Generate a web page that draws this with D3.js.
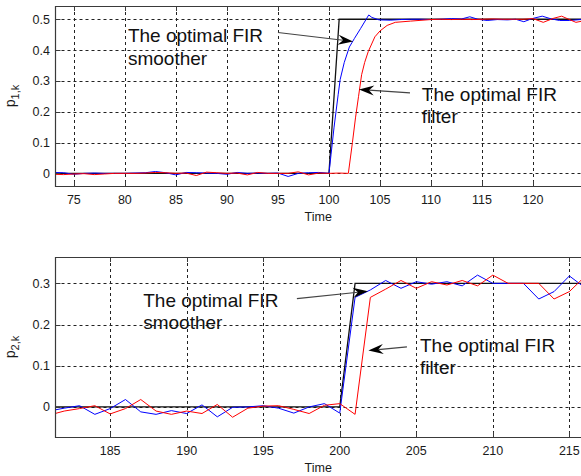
<!DOCTYPE html>
<html>
<head>
<meta charset="utf-8">
<script src="https://cdn.jsdelivr.net/npm/d3@7"></script>
<style>
  body { margin: 0; background: #fff; }
  svg text { font-family: Arial, "Liberation Sans", sans-serif; fill: #1a1a1a; }
</style>
</head>
<body>
<div id="chart"></div>
<script>
// ---- top panel data (p_{1,k}) ----
var trueTime1 = [73, 100, 101, 125];
var trueVal1 = [0, 0, 0.5, 0.5];

var smoothTime1 = [73, 74, 75, 76, 77, 78, 79, 80, 81, 82, 83, 84, 85, 86, 87, 88, 89, 90, 91, 92, 93, 94, 95, 96, 97, 98, 99, 100,
  100.2, 100.5, 100.9, 101.1, 101.5, 102, 102.5, 103.1, 103.9, 104.2, 104.9,
  106, 107, 108, 109, 110, 111, 112, 113, 113.8, 114.6, 115.5, 116.5, 117.5, 118.3, 119.1, 119.9, 120.9, 121.8, 122.6, 123.6, 125];
var smoothVal1 = [0.003, 0.002, -0.003, 0.0, 0.001, 0.0, 0.0, 0.0, 0.001, 0.002, 0.006, 0.002, -0.005, 0.003, 0.002, 0.001, 0.0, -0.003, 0.003, 0.0, 0.001, 0.0, 0.001, -0.01, 0.0, 0.002, 0.003, 0.0,
  0.06, 0.15, 0.255, 0.305, 0.36, 0.41, 0.438, 0.47, 0.514, 0.506, 0.498,
  0.497, 0.499, 0.5, 0.5, 0.499, 0.5, 0.502, 0.501, 0.508, 0.5, 0.496, 0.499, 0.498, 0.5, 0.492, 0.502, 0.51, 0.501, 0.496, 0.496, 0.5];

var filterTime1 = [73, 74, 75, 76, 77, 78, 79, 80, 81, 82, 83, 84, 85, 86, 87, 88, 89, 90, 91, 92, 93, 94, 95, 96, 97, 98, 99, 100, 101, 101.9,
  102.3, 102.6, 102.9, 103.2, 103.5, 103.85, 104.5, 105, 105.7, 106.5, 108, 110,
  111, 112, 113, 114, 115, 116, 117, 118, 119, 120, 121, 122, 122.8, 123.5, 124.2, 125];
var filterVal1 = [-0.003, -0.004, -0.002, -0.001, -0.004, -0.002, 0.0, 0.0, 0.0, 0.001, 0.003, 0.002, 0.0, 0.001, -0.007, 0.004, 0.002, 0.0, 0.001, -0.005, 0.003, 0.0, 0.0, 0.0, 0.005, -0.005, 0.001, 0.0, 0.001, 0.0,
  0.1, 0.18, 0.25, 0.32, 0.36, 0.395, 0.443, 0.462, 0.48, 0.49, 0.494, 0.499,
  0.5, 0.499, 0.5, 0.499, 0.5, 0.501, 0.5, 0.5, 0.5, 0.502, 0.49, 0.503, 0.51, 0.5, 0.49, 0.495];

// ---- bottom panel data (p_{2,k}) ----
var trueTime2 = [181, 200, 201, 216];
var trueVal2 = [0, 0, 0.3, 0.3];

var time2 = [181, 182, 183, 184, 185, 186, 187, 188, 189, 190, 191, 192, 193, 194, 195, 196, 197, 198,
  199, 200, 201, 202, 203, 204, 205, 206, 207, 208, 209, 210, 211, 212, 213, 214, 215, 216];
var smoothVal2 = [-0.01, -0.003, 0.003, -0.018, -0.004, 0.018, -0.012, -0.018, -0.009, -0.016, 0.005, -0.024, -0.001, 0.0, 0.003, -0.003, -0.015, 0.0,
  0.008, -0.015, 0.266, 0.284, 0.307, 0.288, 0.304, 0.298, 0.304, 0.294, 0.32, 0.3, 0.3, 0.3, 0.262, 0.28, 0.318, 0.29];
var filterVal2 = [-0.02, -0.01, -0.004, 0.003, -0.017, -0.004, 0.018, -0.01, -0.018, -0.01, -0.016, 0.006, -0.025, -0.003, 0.002, 0.003, -0.006, -0.016,
  0.004, 0.008, -0.018, 0.266, 0.286, 0.307, 0.288, 0.304, 0.296, 0.307, 0.294, 0.32, 0.3, 0.3, 0.3, 0.262, 0.28, 0.316];

// ticks
var xTicks1 = [75, 80, 85, 90, 95, 100, 105, 110, 115, 120];
var yTicks1 = [0, 0.1, 0.2, 0.3, 0.4, 0.5];
var xTicks2 = [185, 190, 195, 200, 205, 210, 215];
var yTicks2 = [0, 0.1, 0.2, 0.3];

// annotations (data coords): text anchor, arrow start, arrow tip
var notes1 = [
  {lines: ["The optimal FIR", "smoother"], tx: 80.3, ty: 0.426, from: [95.0, 0.457], to: [102.36, 0.428]},
  {lines: ["The optimal FIR", "filter"], tx: 109.1, ty: 0.236, from: [107.94, 0.261], to: [102.95, 0.272]}
];
var notes2 = [
  {lines: ["The optimal FIR", "smoother"], tx: 187.16, ty: 0.243, from: [197.2, 0.263], to: [201.84, 0.281]},
  {lines: ["The optimal FIR", "filter"], tx: 205.24, ty: 0.134, from: [204.39, 0.146], to: [201.87, 0.137]}
];

var W = 581, H = 476;
var svg = d3.select("#chart").append("svg")
  .attr("width", W)
  .attr("height", H);

function zip(ts, vs) {
  return ts.map(function(t, i) { return {t: t, v: vs[i]}; });
}

function drawPanel(cfg) {
  var left = 55.5, right = 581;
  var x = d3.scaleLinear().domain(cfg.xDomain).range([left, right]);
  var y = d3.scaleLinear().domain(cfg.yDomain).range([cfg.bottom, cfg.top]);

  var g = svg.append("g");

  // clip to plot area
  var clipId = "clip-" + cfg.id;
  g.append("clipPath").attr("id", clipId)
    .append("rect")
      .attr("x", left).attr("y", cfg.top)
      .attr("width", right - left + 2).attr("height", cfg.bottom - cfg.top);

  // grid
  g.selectAll(".vgrid").data(cfg.xTicks).enter()
    .append("line")
      .attr("x1", function(d) { return Math.round(x(d)) + 0.5; })
      .attr("x2", function(d) { return Math.round(x(d)) + 0.5; })
      .attr("y1", cfg.top).attr("y2", cfg.bottom)
      .style("stroke", "#222")
      .style("stroke-dasharray", "3,3");
  g.selectAll(".hgrid").data(cfg.yTicks).enter()
    .append("line")
      .attr("x1", left).attr("x2", right)
      .attr("y1", function(d) { return Math.round(y(d)) + 0.5; })
      .attr("y2", function(d) { return Math.round(y(d)) + 0.5; })
      .style("stroke", "#222")
      .style("stroke-dasharray", "3,3");

  // series
  var line = d3.line()
    .x(function(d) { return x(d.t); })
    .y(function(d) { return y(d.v); });
  var plot = g.append("g").attr("clip-path", "url(#" + clipId + ")");
  plot.append("path").datum(zip(cfg.trueT, cfg.trueV))
    .attr("d", line)
    .style("fill", "none").style("stroke", "#111").style("stroke-width", 1.3);
  plot.append("path").datum(zip(cfg.smoothT, cfg.smoothV))
    .attr("d", line)
    .style("fill", "none").style("stroke", "#0000ff").style("stroke-width", 1);
  plot.append("path").datum(zip(cfg.filterT, cfg.filterV))
    .attr("d", line)
    .style("fill", "none").style("stroke", "#ff0000").style("stroke-width", 1);

  // frame (right side is cut off by the picture)
  g.append("path")
    .attr("d", "M" + (right + 2) + "," + (cfg.top + 0.5) + "H" + left + "V" + (cfg.bottom + 0.5) + "H" + (right + 2))
    .style("fill", "none").style("stroke", "#3a3a3a").style("stroke-width", 1.2);

  // inner ticks
  cfg.xTicks.forEach(function(d) {
    var xx = Math.round(x(d)) + 0.5;
    g.append("line").attr("x1", xx).attr("x2", xx).attr("y1", cfg.bottom).attr("y2", cfg.bottom - 5)
      .style("stroke", "#3a3a3a");
    g.append("line").attr("x1", xx).attr("x2", xx).attr("y1", cfg.top).attr("y2", cfg.top + 5)
      .style("stroke", "#3a3a3a");
  });
  cfg.yTicks.forEach(function(d) {
    var yy = Math.round(y(d)) + 0.5;
    g.append("line").attr("x1", left).attr("x2", left + 5).attr("y1", yy).attr("y2", yy)
      .style("stroke", "#3a3a3a");
  });

  // tick labels
  g.selectAll(".xlab").data(cfg.xTicks).enter()
    .append("text")
      .attr("x", function(d) { return x(d); })
      .attr("y", cfg.bottom + 17.5)
      .attr("text-anchor", "middle")
      .style("font-size", "12.5px")
      .text(function(d) { return d; });
  g.selectAll(".ylab").data(cfg.yTicks).enter()
    .append("text")
      .attr("x", left - 5.5)
      .attr("y", function(d) { return y(d); })
      .attr("dy", "0.36em")
      .attr("text-anchor", "end")
      .style("font-size", "12.5px")
      .text(function(d) { return d; });

  // axis titles
  g.append("text")
    .attr("x", (left + right) / 2)
    .attr("y", cfg.bottom + 34.5)
    .attr("text-anchor", "middle")
    .style("font-size", "12.5px")
    .text("Time");
  var yl = g.append("text")
    .attr("transform", "translate(15," + ((cfg.top + cfg.bottom) / 2) + ") rotate(-90)")
    .attr("text-anchor", "middle")
    .style("font-size", "14px");
  yl.append("tspan").text("p");
  yl.append("tspan").attr("dy", 3.5).style("font-size", "11px").text(cfg.sub);

  // annotations with arrows
  cfg.notes.forEach(function(n) {
    var t = g.append("text")
      .attr("x", x(n.tx))
      .attr("y", y(n.ty))
      .style("font-size", "19px")
      .style("fill", "#111");
    n.lines.forEach(function(s, i) {
      t.append("tspan").attr("x", x(n.tx)).attr("dy", i === 0 ? 0 : 22.5).text(s);
    });

    var x0 = x(n.from[0]), y0 = y(n.from[1]), x1 = x(n.to[0]), y1 = y(n.to[1]);
    var dx = x1 - x0, dy = y1 - y0, len = Math.sqrt(dx * dx + dy * dy);
    var ux = dx / len, uy = dy / len, px = -uy, py = ux;
    var L = 15, HW = 5, N = 10;
    var bx = x1 - ux * L, by = y1 - uy * L;
    var nx = x1 - ux * N, ny = y1 - uy * N;
    g.append("line")
      .attr("x1", x0).attr("y1", y0).attr("x2", nx).attr("y2", ny)
      .style("stroke", "#444").style("stroke-width", 1.2);
    g.append("path")
      .attr("d", "M" + x1 + "," + y1 +
        "L" + (bx + px * HW) + "," + (by + py * HW) +
        "L" + nx + "," + ny +
        "L" + (bx - px * HW) + "," + (by - py * HW) + "Z")
      .style("fill", "#000");
  });
}

drawPanel({
  id: "p1", top: 6, bottom: 186,
  xDomain: [73.2, 124.7], yDomain: [-0.041, 0.543],
  xTicks: xTicks1, yTicks: yTicks1, sub: "1,k",
  trueT: trueTime1, trueV: trueVal1,
  smoothT: smoothTime1, smoothV: smoothVal1,
  filterT: filterTime1, filterV: filterVal1,
  notes: notes1
});

drawPanel({
  id: "p2", top: 257, bottom: 437,
  xDomain: [181.43, 215.76], yDomain: [-0.073, 0.364],
  xTicks: xTicks2, yTicks: yTicks2, sub: "2,k",
  trueT: trueTime2, trueV: trueVal2,
  smoothT: time2, smoothV: smoothVal2,
  filterT: time2, filterV: filterVal2,
  notes: notes2
});
</script>
</body>
</html>
